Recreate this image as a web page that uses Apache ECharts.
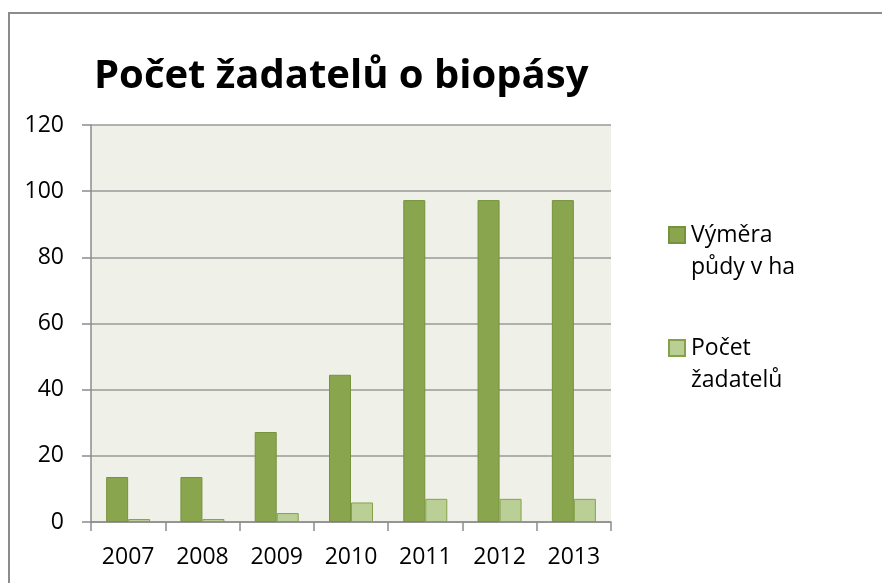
<!DOCTYPE html>
<html>
<head>
<meta charset="utf-8">
<style>html,body{margin:0;padding:0;background:#fff;}#c{width:882px;height:583px;}</style>
<script src="https://cdn.jsdelivr.net/npm/echarts@6/dist/echarts.min.js"></script>
</head>
<body>
<div id="c"></div>
<script>
const categories = ['2007', '2008', '2009', '2010', '2011', '2012', '2013'];
const vymera = [13.6, 13.6, 27.2, 44.5, 97.3, 97.3, 97.3];
const pocet = [0.9, 0.9, 2.7, 5.9, 7.0, 7.0, 7.0];
const yTicks = [0, 20, 40, 60, 80, 100, 120];
const seriesNames = ['Výměra\npůdy v ha', 'Počet\nžadatelů'];
const titleText = 'Počet žadatelů o biopásy';

const FONT = "'Open Sans', 'Noto Sans', sans-serif";
const chart = echarts.init(document.getElementById('c'), null, {renderer: 'canvas'});
chart.setOption({
  animation: false,
  backgroundColor: '#ffffff',
  title: {
    text: titleText,
    left: 94, top: 57, padding: 0,
    textStyle: {fontFamily: FONT, fontWeight: 'bold', fontSize: 40, color: '#000'}
  },
  graphic: [{
    type: 'rect', silent: true, z: -1,
    shape: {x: 9, y: 13, width: 900, height: 600},
    style: {fill: 'none', stroke: '#8c8c8c', lineWidth: 2}
  }],
  legend: {
    orient: 'vertical',
    left: 668, top: 187, padding: 0,
    itemWidth: 16, itemHeight: 16,
    itemGap: 17,
    icon: 'rect',
    data: seriesNames,
    formatter: function (name) { return '{sp| }\n' + name; },
    textStyle: {
      fontFamily: FONT, fontSize: 23, color: '#000', lineHeight: 32, padding: [0, 0, 0, 1],
      rich: {sp: {fontFamily: FONT, fontSize: 23, lineHeight: 32}}
    }
  },
  grid: {left: 91, top: 125, width: 520, height: 397, containLabel: false,
    show: true, backgroundColor: '#eff1e8', borderWidth: 0},
  xAxis: {
    type: 'category',
    data: categories,
    axisLine: {lineStyle: {color: '#8c8c8c', width: 1.5}},
    axisTick: {show: true, length: 9, alignWithLabel: false, lineStyle: {color: '#8c8c8c', width: 1.5}},
    axisLabel: {fontFamily: FONT, fontSize: 23, color: '#000', margin: 24}
  },
  yAxis: {
    type: 'value',
    min: yTicks[0], max: yTicks[yTicks.length - 1], interval: 20,
    axisLine: {show: true, lineStyle: {color: '#8c8c8c', width: 1.5}},
    axisTick: {show: true, length: 9, lineStyle: {color: '#8c8c8c', width: 1.5}},
    splitLine: {lineStyle: {color: '#9a9a9a', width: 1.5}},
    axisLabel: {fontFamily: FONT, fontSize: 23, color: '#000', margin: 27}
  },
  series: [
    {
      name: seriesNames[0], type: 'bar', data: vymera,
      barWidth: 22, barGap: '0%',
      itemStyle: {color: '#89a54e', borderColor: '#76923c', borderWidth: 1}
    },
    {
      name: seriesNames[1], type: 'bar', data: pocet,
      barWidth: 22, barGap: '0%',
      itemStyle: {color: '#b9cf96', borderColor: '#86a148', borderWidth: 1}
    }
  ]
});
</script>
</body>
</html>
